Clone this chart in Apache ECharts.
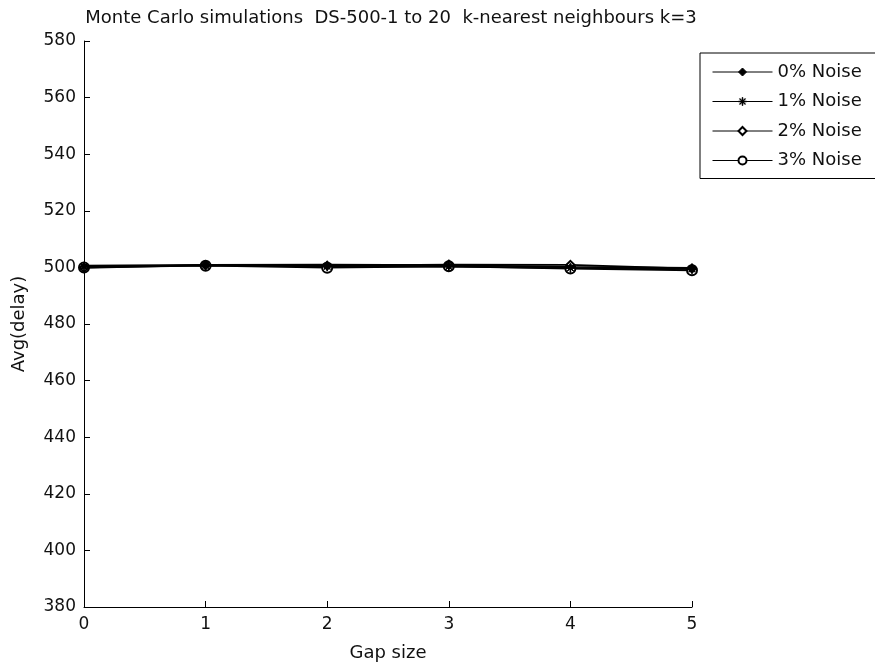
<!DOCTYPE html>
<html>
<head>
<meta charset="utf-8">
<script src="https://cdn.jsdelivr.net/npm/echarts@6/dist/echarts.min.js"></script>
<style>
  html, body { margin: 0; padding: 0; background: #fff; }
  #main { width: 875px; height: 662px; }
</style>
</head>
<body>
<div id="main"></div>
<script>
// gap sizes on the x axis
const gapSizes = [0, 1, 2, 3, 4, 5]
const seriesNames = ['0% Noise', '1% Noise', '2% Noise', '3% Noise']
// avg delay
const noise0 = [500.6, 500.9, 501.0, 500.8, 500.2, 499.8]
const noise1 = [500.3, 500.7, 500.4, 500.3, 499.8, 499.5]
const noise2 = [499.8, 500.8, 500.6, 501.0, 500.9, 499.6]
const noise3 = [500.0, 500.6, 499.9, 500.4, 499.6, 499.0]
const yTicks = [380, 400, 420, 440, 460, 480, 500, 520, 540, 560, 580]

const asterisk = 'path://M9.3,0h1.4v20h-1.4z M0,9.3h20v1.4h-20z M2.6,3.6l1,-1l13.8,13.8l-1,1z M16.4,2.6l1,1l-13.8,13.8l-1,-1z'
const symbols = ['diamond', asterisk, 'emptyDiamond', 'emptyCircle']
const symbolSizes = [6, 9, 8, 10]
const allData = [noise0, noise1, noise2, noise3]

let chart = echarts.init(document.getElementById('main'))
const font = 'DejaVu Sans, sans-serif'

let options = {
  backgroundColor: '#fff',
  animation: false,
  title: {
    text: 'Monte Carlo simulations  DS-500-1 to 20  k-nearest neighbours k=3',
    left: 386,
    textAlign: 'center',
    top: 4,
    textStyle: { fontFamily: font, fontSize: 18, fontWeight: 'normal', color: '#111' }
  },
  legend: {
    orient: 'vertical',
    left: 700,
    top: 53,
    padding: [9, 40, 8, 12],
    itemGap: 9.5,
    itemWidth: 60,
    itemHeight: 10,
    borderColor: '#000',
    borderWidth: 1,
    backgroundColor: '#fff',
    textStyle: { fontFamily: font, fontSize: 18, lineHeight: 20, color: '#111' },
    data: seriesNames.map((n) => ({ name: n, itemStyle: { borderWidth: 1 }, lineStyle: { width: 1 } }))
  },
  grid: { left: 84, right: 183, top: 41, bottom: 55, containLabel: false, outerBoundsMode: 'none' },
  xAxis: {
    type: 'value',
    min: 0,
    max: 5,
    interval: 1,
    name: 'Gap size',
    nameLocation: 'middle',
    nameGap: 37,
    nameTextStyle: { fontFamily: font, fontSize: 18, color: '#111' },
    axisLine: { lineStyle: { color: '#000', width: 1 } },
    axisTick: { inside: true, length: 6, lineStyle: { color: '#000' } },
    axisLabel: { fontFamily: font, fontSize: 17, color: '#111', margin: 9 },
    splitLine: { show: false }
  },
  yAxis: {
    type: 'value',
    min: yTicks[0],
    max: yTicks[yTicks.length - 1],
    interval: 20,
    name: 'Avg(delay)',
    nameLocation: 'middle',
    nameGap: 56,
    nameTextStyle: { fontFamily: font, fontSize: 18, color: '#111' },
    axisLine: { show: true, lineStyle: { color: '#000', width: 1 } },
    axisTick: { show: true, inside: true, length: 6, lineStyle: { color: '#000' } },
    axisLabel: { fontFamily: font, fontSize: 17, color: '#111', margin: 8 },
    splitLine: { show: false }
  },
  series: seriesNames.map((name, i) => ({
    name: name,
    type: 'line',
    data: gapSizes.map((g, j) => [g, allData[i][j]]),
    symbol: symbols[i],
    symbolSize: symbolSizes[i],
    showAllSymbol: true,
    lineStyle: { color: '#000', width: 1.8 },
    itemStyle: { color: '#000', borderColor: '#000', borderWidth: 1 },
    z: 10 - i
  }))
}
options && chart.setOption(options)
</script>
</body>
</html>
